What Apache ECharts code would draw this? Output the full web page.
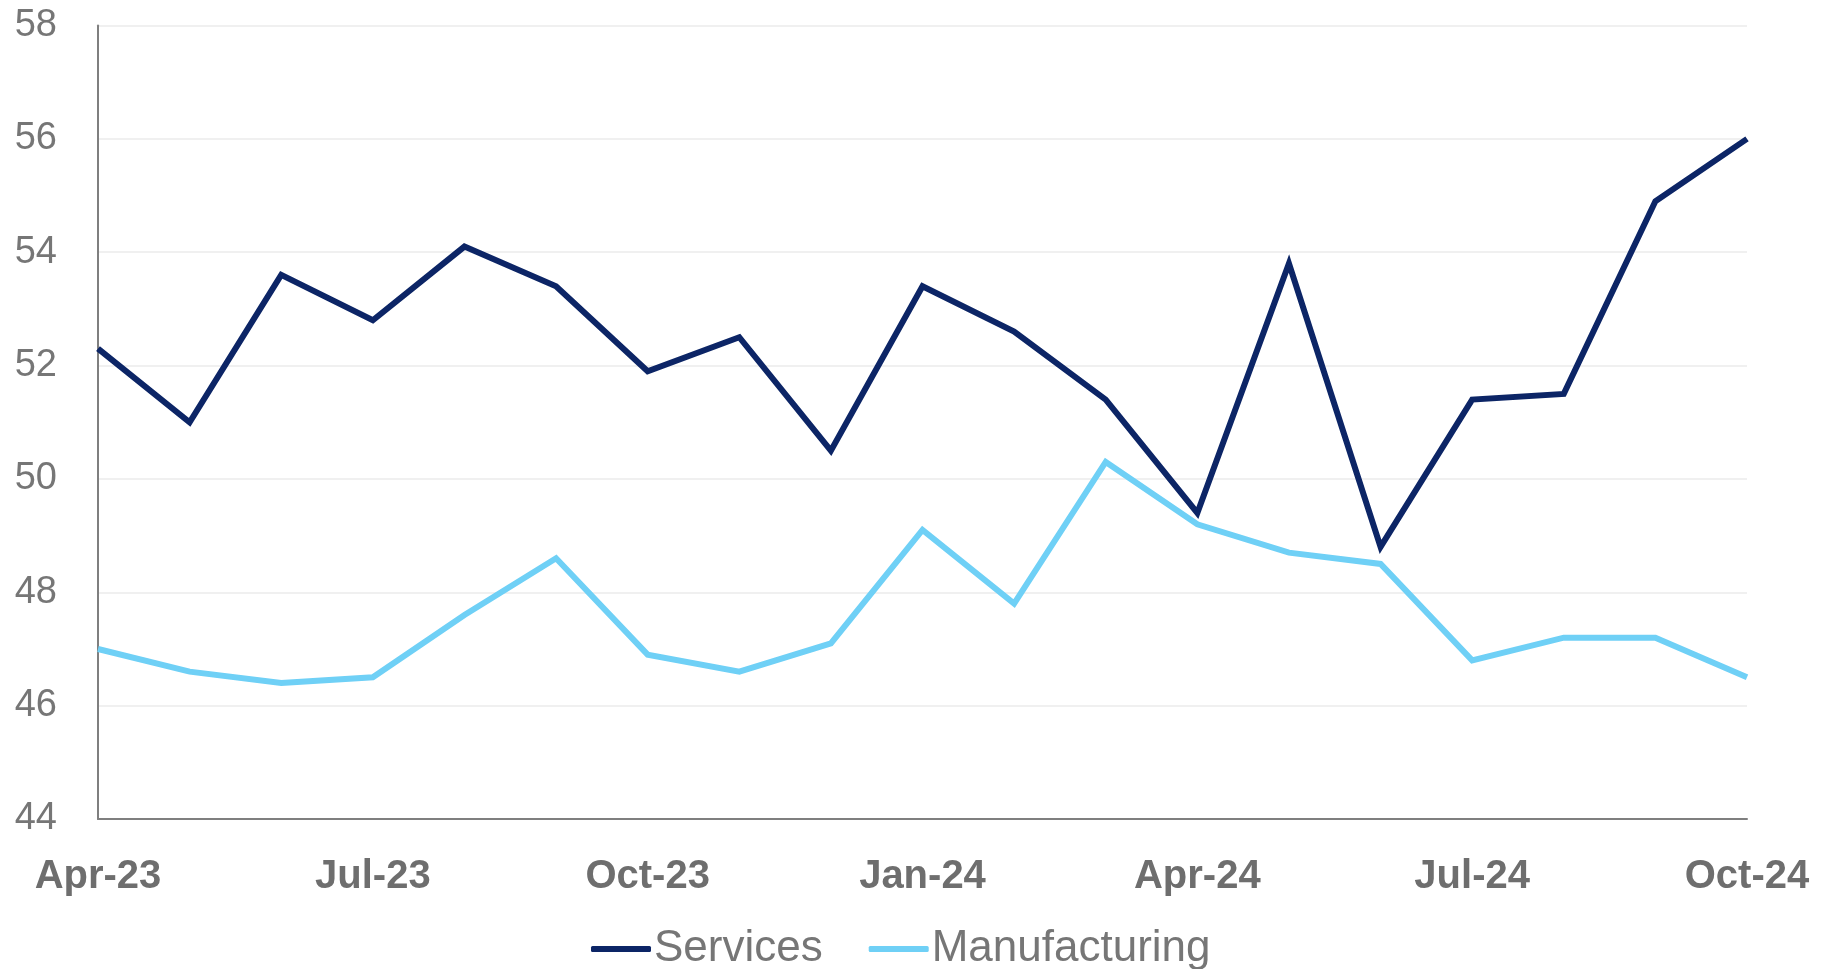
<!DOCTYPE html>
<html>
<head>
<meta charset="utf-8">
<script src="https://cdn.jsdelivr.net/npm/echarts@6/dist/echarts.min.js"></script>
<style>
  html, body { margin: 0; padding: 0; background: #ffffff; }
  #chart { width: 1835px; height: 969px; }
</style>
</head>
<body>
<div id="chart"></div>
<script>
// Monthly PMI readings, Apr-23 to Oct-24
const months = ['Apr-23','May-23','Jun-23','Jul-23','Aug-23','Sep-23','Oct-23','Nov-23','Dec-23',
                'Jan-24','Feb-24','Mar-24','Apr-24','May-24','Jun-24','Jul-24','Aug-24','Sep-24','Oct-24'];
const services = [52.3, 51.0, 53.6, 52.8, 54.1, 53.4, 51.9, 52.5, 50.5,
                  53.4, 52.6, 51.4, 49.4, 53.8, 48.8, 51.4, 51.5, 54.9, 56.0];
const manufacturing = [47.0, 46.6, 46.4, 46.5, 47.6, 48.6, 46.9, 46.6, 47.1,
                       49.1, 47.8, 50.3, 49.2, 48.7, 48.5, 46.8, 47.2, 47.2, 46.5];
const yTicks = { min: 44, max: 58, step: 2 };

const chart = echarts.init(document.getElementById('chart'), null, { renderer: 'canvas' });

const fontFamily = '"Liberation Sans", Arial, sans-serif';

chart.setOption({
  backgroundColor: '#ffffff',
  animation: false,
  grid: { left: 98, right: 88, top: 25.5, bottom: 150, containLabel: false },
  legend: {
    left: 586,
    top: 922,
    itemWidth: 60,
    itemHeight: 6,
    itemGap: 46,
    icon: 'roundRect',
    textStyle: { fontFamily, fontSize: 44, color: '#767676', padding: [0, 0, 0, -2] },
    data: ['Services', 'Manufacturing']
  },
  xAxis: {
    type: 'category',
    data: months,
    boundaryGap: false,
    axisLine: { show: true, lineStyle: { color: '#7f7f7f', width: 2 } },
    axisTick: { show: false },
    axisLabel: {
      interval: 2,
      margin: 38,
      fontFamily,
      fontSize: 40,
      fontWeight: 'bold',
      color: '#6e6e6e'
    },
    splitLine: { show: false }
  },
  yAxis: {
    type: 'value',
    min: yTicks.min,
    max: yTicks.max,
    interval: yTicks.step,
    axisLine: { show: true, lineStyle: { color: '#7f7f7f', width: 2 } },
    axisTick: { show: false },
    axisLabel: { margin: 41, fontFamily, fontSize: 38, color: '#767676' },
    splitLine: { show: true, lineStyle: { color: '#f0f0f0', width: 2 } }
  },
  series: [
    {
      name: 'Services',
      type: 'line',
      data: services,
      showSymbol: false,
      symbol: 'none',
      itemStyle: { color: '#0c2566' },
      lineStyle: { color: '#0c2566', width: 6, join: 'miter' },
      z: 3
    },
    {
      name: 'Manufacturing',
      type: 'line',
      data: manufacturing,
      showSymbol: false,
      symbol: 'none',
      itemStyle: { color: '#6fd0f6' },
      lineStyle: { color: '#6fd0f6', width: 6, join: 'miter' },
      z: 2
    }
  ]
});
</script>
</body>
</html>
